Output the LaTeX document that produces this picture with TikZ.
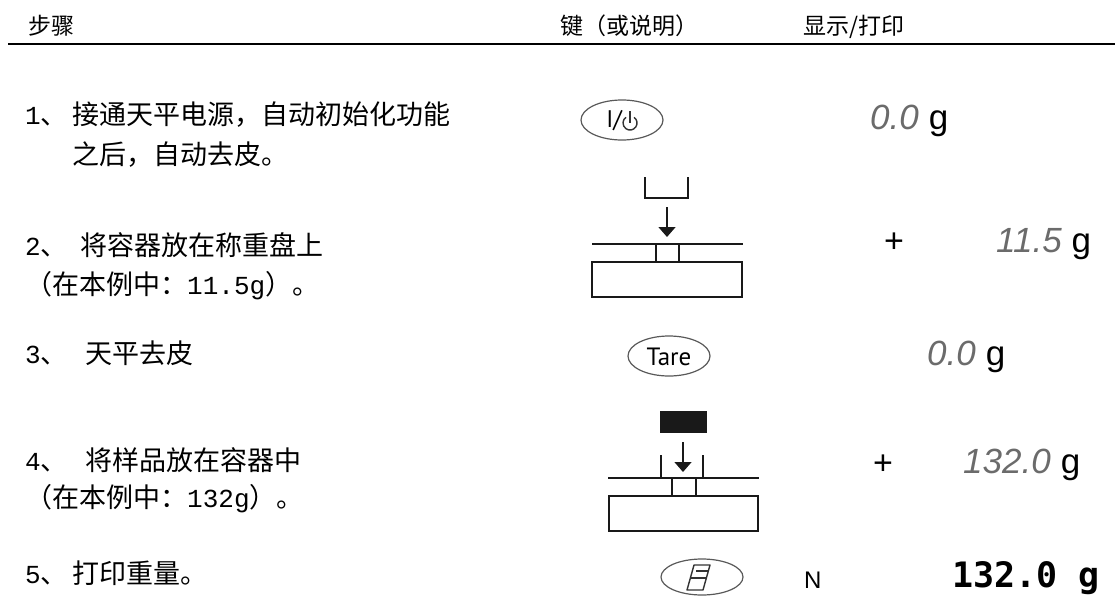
\documentclass[tikz,border=0pt]{standalone}
\usepackage{fontspec}
\setmainfont{Liberation Sans}
\newfontfamily\cjk{Noto Sans CJK SC}
\newfontfamily\mono{Liberation Mono}
\newfontfamily\dmono{DejaVu Sans Mono}
\newfontfamily\keyfont{PT Sans}
\usetikzlibrary{arrows.meta,shapes.geometric}
\definecolor{keyc}{gray}{0.35}
\definecolor{iconc}{gray}{0.1}
\definecolor{segc}{gray}{0.42}
\newcommand\asc[1]{{\fontsize{26}{30}\selectfont\mono #1}}
\newcommand\segd[1]{{\color{segc}\fontsize{35}{40}\selectfont\itshape #1}}
\newcommand\unitg{{\fontsize{35}{40}\selectfont\hspace{10pt}g}}
\begin{document}
\begin{tikzpicture}[x=1pt,y=-1pt,
  steptext/.style={anchor=base west, inner sep=0pt, font=\fontsize{27}{30}\selectfont\cjk},
  stepnum/.style={anchor=base west, inner sep=0pt, font=\fontsize{27}{30}\selectfont\cjk},
  headtext/.style={anchor=base west, inner sep=0pt, font=\fontsize{23}{26}\selectfont\cjk},
  keyellipse/.style={ellipse, draw=keyc, line width=1.2pt, minimum width=82pt, minimum height=40pt, inner sep=0pt},
  disp/.style={anchor=base west, inner sep=0pt},
  plus/.style={inner sep=0pt, font=\fontsize{34}{36}\selectfont},
  icon/.style={draw=iconc, line width=1.5pt},
  droparrow/.style={icon, -{Triangle[length=10pt,width=17pt]}},
  keyicon/.style={draw=black!80, line width=1.4pt}
]
\useasboundingbox (0,0) rectangle (1115,597);

% header
\node[headtext] (h1) at (28,34) {步骤};
\node[headtext] (h2) at (560,34) {键（或说明）};
\node[headtext] (h3) at (803,34) {显示/打印};
\coordinate (hl1) at (8,44);
\coordinate (hl2) at (1115,44);
\draw[line width=2.2pt] (hl1) -- (hl2);

% step 1
\node[stepnum] (n1) at (25,124) {\asc{1}、};
\node[steptext] (s1a) at (72,124) {接通天平电源，自动初始化功能};
\node[steptext] (s1b) at (72,164) {之后，自动去皮。};
\node[keyellipse] (io) at (622,120) {};
\node[inner sep=0pt, font=\fontsize{24}{26}\selectfont\keyfont] (iot) at (614,121) {I/};
\coordinate (pc) at (630,123);
\coordinate (ptop) at (630,111);
\draw[keyicon] ([shift={(-55:7)}]pc) arc[start angle=-55, end angle=235, radius=7];
\draw[keyicon] (ptop) -- (pc);
\node[disp] (d1) at (870,129) {\segd{0.0}\unitg};

% step 2
\node[stepnum] (n2) at (25,255) {\asc{2}、};
\node[steptext] (s2a) at (80,255) {将容器放在称重盘上};
\node[steptext] (s2b) at (25,294) {（在本例中：\asc{11.5g}）。};
\coordinate (c1a) at (645,177);
\coordinate (c1b) at (645,198);
\coordinate (c1c) at (688,198);
\coordinate (c1d) at (688,177);
\draw[icon] (c1a) -- (c1b) -- (c1c) -- (c1d);
\coordinate (a1s) at (667,207);
\coordinate (a1e) at (667,237);
\draw[droparrow] (a1s) -- (a1e);
\coordinate (p1l) at (592,244);
\coordinate (p1r) at (743,244);
\draw[icon] (p1l) -- (p1r);
\draw[icon] (656,244) -- (656,262) (679,244) -- (679,262);
\draw[icon] (592,262) rectangle (742,297);
\node[plus] (pl2) at (894,243) {+};
\node[disp] (d2) at (996,252) {\segd{11.5}\unitg};

% step 3
\node[stepnum] (n3) at (25,363) {\asc{3}、};
\node[steptext] (s3) at (85,363) {天平去皮};
\node[keyellipse] (tare) at (669,356) {};
\node[inner sep=0pt, font=\fontsize{25}{27}\selectfont\keyfont] (taret) at (669,357) {Tare};
\node[disp] (d3) at (927,365) {\segd{0.0}\unitg};

% step 4
\node[stepnum] (n4) at (25,470) {\asc{4}、};
\node[steptext] (s4a) at (85,470) {将样品放在容器中};
\node[steptext] (s4b) at (25,507) {（在本例中：\asc{132g}）。};
\fill[iconc] (660,411) rectangle (707,433);
\coordinate (a2s) at (683,442);
\coordinate (a2e) at (683,472);
\draw[droparrow] (a2s) -- (a2e);
\draw[icon] (661,455) -- (661,478) (703,455) -- (703,478);
\coordinate (p2l) at (608,478);
\coordinate (p2r) at (759,478);
\draw[icon] (p2l) -- (p2r);
\draw[icon] (672,478) -- (672,496) (696,478) -- (696,496);
\draw[icon] (609,496) rectangle (758,531);
\node[plus] (pl4) at (883,465) {+};
\node[disp] (d4) at (963,473) {\segd{132.0}\unitg};

% step 5
\node[stepnum] (n5) at (25,583) {\asc{5}、};
\node[steptext] (s5) at (72,583) {打印重量。};
\node[keyellipse, minimum height=36pt] (print) at (702,577) {};
\draw[keyicon, line join=round] (694,565) -- (710,565) -- (703,590) -- (687,590) -- cycle;
\draw[keyicon] (690,578) -- (706,578);
\draw[keyicon] (696,571) -- (708,571);
\node[disp, font=\fontsize{24}{26}\selectfont] (nn) at (804,588) {N};
\node[disp, font=\fontsize{35}{40}\selectfont\dmono\bfseries] (d5) at (952,587) {132.0 g};
\end{tikzpicture}
\end{document}
